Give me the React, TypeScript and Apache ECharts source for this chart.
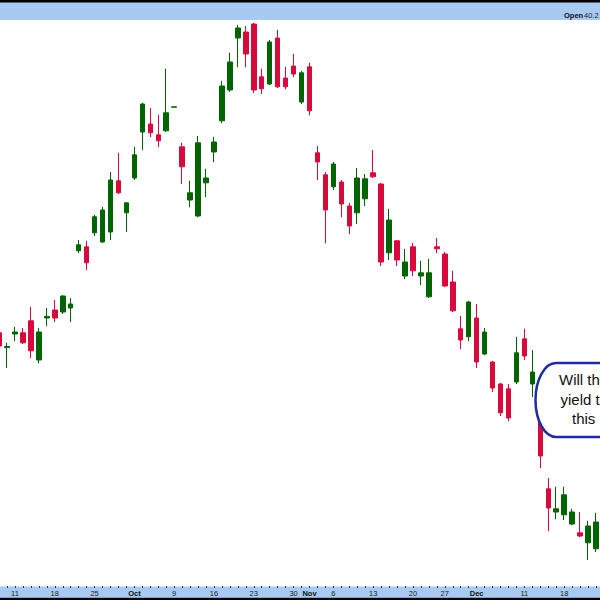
import React, { useEffect, useRef } from "react";
import * as echarts from "echarts";

// Trading days shown (Sep 7 – Dec 22, 2023)
const dates = [
  "2023-09-07", "2023-09-08", "2023-09-11", "2023-09-12", "2023-09-13", "2023-09-14", "2023-09-15",
  "2023-09-18", "2023-09-19", "2023-09-20", "2023-09-21", "2023-09-22", "2023-09-25", "2023-09-26",
  "2023-09-27", "2023-09-28", "2023-09-29",
  "2023-10-02", "2023-10-03", "2023-10-04", "2023-10-05", "2023-10-06", "2023-10-09", "2023-10-10",
  "2023-10-11", "2023-10-12", "2023-10-13", "2023-10-16", "2023-10-17", "2023-10-18", "2023-10-19",
  "2023-10-20", "2023-10-23", "2023-10-24", "2023-10-25", "2023-10-26", "2023-10-27", "2023-10-30",
  "2023-10-31",
  "2023-11-01", "2023-11-02", "2023-11-03", "2023-11-06", "2023-11-07", "2023-11-08", "2023-11-09",
  "2023-11-10", "2023-11-13", "2023-11-14", "2023-11-15", "2023-11-16", "2023-11-17", "2023-11-20",
  "2023-11-21", "2023-11-22", "2023-11-24", "2023-11-27", "2023-11-28", "2023-11-29", "2023-11-30",
  "2023-12-01", "2023-12-04", "2023-12-05", "2023-12-06", "2023-12-07", "2023-12-08", "2023-12-11",
  "2023-12-12", "2023-12-13", "2023-12-14", "2023-12-15", "2023-12-18", "2023-12-19", "2023-12-20",
  "2023-12-21", "2023-12-22",
];

const opens = [
  42.68, 42.31, 42.65, 42.68, 42.98, 42.0, 43.05, 43.25, 43.2, 43.3,
  44.73, 44.83, 45.18, 44.95, 45.2, 46.48, 45.68, 46.55, 47.7, 47.9,
  47.63, 47.73, 48.32, 47.33, 46.0, 45.6, 46.43, 47.2, 47.98, 48.75,
  50.05, 50.2, 50.4, 49.08, 48.9, 50.05, 49.05, 49.35, 48.45, 49.33,
  47.18, 46.63, 46.33, 46.45, 45.85, 45.68, 46.03, 46.68, 46.4, 44.68,
  44.98, 44.1, 44.83, 44.1, 43.58, 44.83, 44.65, 43.95, 42.78, 42.58,
  43.05, 42.15, 41.95, 41.4, 41.28, 41.45, 42.53, 41.4, 41.5, 38.78,
  38.2, 38.13, 37.9, 37.68, 37.43, 37.28,
];
const closes = [
  42.35, 42.34, 42.7, 42.43, 42.23, 42.7, 43.09, 43.05, 43.6, 43.4,
  44.88, 44.43, 45.58, 45.75, 46.5, 46.18, 45.93, 47.13, 48.4, 47.68,
  47.48, 48.18, 48.33, 46.83, 46.18, 47.43, 46.55, 47.45, 48.85, 49.45,
  50.3, 49.65, 48.75, 48.78, 49.95, 48.83, 48.83, 49.15, 49.18, 48.23,
  46.95, 45.75, 46.9, 45.9, 45.35, 46.55, 46.53, 46.58, 44.45, 45.5,
  44.5, 44.45, 44.23, 44.18, 44.18, 44.78, 43.85, 43.23, 42.5, 43.45,
  41.95, 42.7, 41.3, 40.68, 40.55, 42.18, 42.1, 41.7, 39.6, 38.3,
  38.28, 38.63, 38.2, 37.6, 37.85, 37.95,
];
const lows = [
  42.27, 41.8, 42.47, 42.4, 42.05, 41.92, 42.85, 42.95, 43.15, 42.95,
  44.67, 44.25, 45.1, 44.93, 45.0, 46.15, 45.2, 46.5, 47.25, 47.57,
  47.32, 47.7, 48.32, 46.4, 45.82, 45.57, 46.07, 46.95, 47.92, 48.7,
  49.32, 49.32, 48.67, 48.65, 48.87, 48.8, 48.77, 49.07, 48.4, 48.12,
  46.5, 44.92, 46.25, 45.57, 45.15, 45.4, 45.85, 46.55, 44.35, 44.5,
  44.35, 44.02, 44.1, 43.87, 43.55, 44.67, 43.82, 43.2, 42.27, 42.47,
  41.8, 42.12, 41.2, 40.6, 40.47, 41.4, 42.0, 41.07, 39.3, 37.72,
  38.02, 38.0, 37.87, 37.57, 37.0, 37.2,
];
const highs = [
  42.73, 42.43, 42.83, 42.8, 43.33, 42.8, 43.3, 43.5, 43.62, 43.55,
  45.0, 44.98, 45.63, 45.83, 46.7, 47.18, 45.93, 47.33, 48.43, 48.3,
  48.13, 49.28, 48.33, 47.43, 46.48, 47.6, 46.78, 47.58, 48.98, 49.68,
  50.38, 50.35, 50.43, 49.28, 50.0, 50.25, 49.33, 49.65, 49.23, 49.43,
  47.35, 46.7, 46.95, 46.5, 45.93, 46.8, 46.65, 47.25, 46.43, 45.78,
  45.0, 44.78, 44.93, 44.48, 44.53, 45.05, 44.7, 44.23, 43.1, 43.48,
  43.4, 42.8, 41.98, 41.43, 41.4, 42.58, 42.78, 42.25, 41.6, 39.05,
  38.83, 38.83, 38.28, 38.2, 37.98, 38.18,
];

// x-axis tick labels
const labelDates = [
  "2023-09-11", "2023-09-18", "2023-09-25", "2023-10-02", "2023-10-09", "2023-10-16",
  "2023-10-23", "2023-10-30", "2023-11-01", "2023-11-06", "2023-11-13", "2023-11-20",
  "2023-11-27", "2023-12-01", "2023-12-11", "2023-12-18",
];
const labelTexts = [
  "11", "18", "25", "Oct", "9", "16", "23", "30", "Nov", "6", "13", "20", "27", "Dec", "11", "18",
];
const monthNames = ["Oct", "Nov", "Dec"];

// annotation text, as much of it as is visible in the cropped picture
const bubbleLines = ["Will th", "yield t", "this"];

const BLUE = "#a7c9f2";
const UP = "#006400";
const DOWN = "#d60a3c";

const bubblePath = "M556,363 L720,363 L720,437 L556,437 A20.5,37 0 0 1 556,363 Z";
echarts.graphic.registerShape("bubble", echarts.graphic.extendPath(bubblePath, {}) as any);

export default function App() {
  const ref = useRef<HTMLDivElement>(null);

  useEffect(() => {
    if (!ref.current) return;
    const chart = echarts.init(ref.current, null, { renderer: "svg" });
    const labelMap: Record<string, string> = {};
    labelDates.forEach((d, i) => (labelMap[d] = labelTexts[i]));
    const candles = dates.map((_, i) => [opens[i], closes[i], lows[i], highs[i]]);

    chart.setOption({
      animation: false,
      backgroundColor: "#ffffff",
      grid: {
        left: -4.9,
        right: 0,
        top: 20,
        bottom: 14,
        containLabel: false,
        outerBoundsMode: "none",
      },
      xAxis: {
        type: "category",
        data: dates,
        boundaryGap: true,
        axisLine: { show: false },
        axisTick: {
          show: true,
          alignWithLabel: true,
          interval: 0,
          length: 2,
          lineStyle: { color: "#333", width: 1 },
        },
        axisLabel: {
          interval: 0,
          margin: 3,
          fontSize: 7.5,
          fontFamily: "Liberation Sans",
          color: "#222",
          formatter: (val: string) => {
            const t = labelMap[val];
            if (!t) return "";
            return monthNames.includes(t) ? `{b|${t}}` : t;
          },
          rich: {
            b: { fontSize: 7.5, fontWeight: "bold", fontFamily: "Liberation Sans", color: "#111" },
          },
        },
        splitLine: { show: false },
      },
      yAxis: {
        type: "value",
        min: 36.35,
        max: 50.5,
        show: false,
        splitLine: { show: false },
      },
      series: [
        {
          type: "candlestick",
          data: candles,
          barWidth: 5,
          itemStyle: {
            color: UP,
            color0: DOWN,
            borderColor: UP,
            borderColor0: DOWN,
            borderWidth: 1,
          },
        },
      ],
      graphic: [
        { type: "rect", z: -10, shape: { x: 0, y: 0, width: 600, height: 2.7 }, style: { fill: "#000" } },
        { type: "rect", z: -10, shape: { x: 0, y: 2.7, width: 600, height: 17.3 }, style: { fill: BLUE } },
        { type: "rect", z: -10, shape: { x: 0, y: 586.5, width: 600, height: 11.2 }, style: { fill: BLUE } },
        { type: "rect", z: -10, shape: { x: 0, y: 597.7, width: 600, height: 2.3 }, style: { fill: "#000" } },
        {
          type: "text",
          z: 50,
          x: 564,
          y: 15,
          style: { text: "Open", fill: "#111", fontSize: 7.5, fontWeight: "bold", fontFamily: "Liberation Sans", verticalAlign: "middle" },
        },
        {
          type: "text",
          z: 50,
          x: 584,
          y: 15,
          style: { text: "40.2", fill: "#222", fontSize: 7.5, fontFamily: "Liberation Sans", verticalAlign: "middle" },
        },
        {
          type: "bubble",
          z: 100,
          x: 0,
          y: 0,
          scaleX: 1,
          scaleY: 1,
          style: { fill: "#ffffff", stroke: "#1f2ca3", lineWidth: 2.5 },
        },
        ...bubbleLines.map((t, i) => ({
          type: "text",
          z: 101,
          x: [559, 560.5, 572][i],
          y: [379, 399, 418][i],
          style: {
            text: t,
            fill: "#111",
            fontSize: 15,
            fontFamily: "Liberation Sans",
            verticalAlign: "middle",
          },
        })),
      ],
    });
    return () => chart.dispose();
  }, []);

  return (
    <div
      ref={ref}
      style={{ position: "fixed", left: 0, top: 0, width: 600, height: 600 }}
    />
  );
}
